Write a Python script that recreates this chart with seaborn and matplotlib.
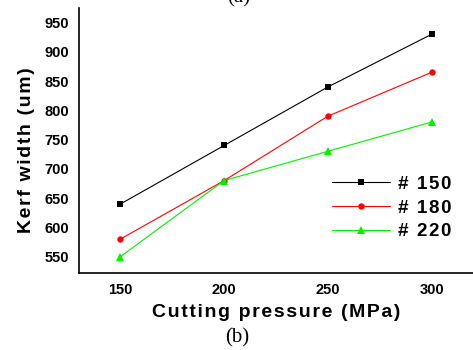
import matplotlib
matplotlib.use("Agg")
import matplotlib.pyplot as plt
import seaborn as sns
import pandas as pd
from matplotlib.ticker import MultipleLocator

pressure = [150, 200, 250, 300]
kerf_150 = [640, 740, 840, 930]
kerf_180 = [580, 680, 790, 865]
kerf_220 = [550, 680, 730, 780]
series_names = ["# 150", "# 180", "# 220"]

df = pd.DataFrame({
    "pressure": pressure * 3,
    "kerf": kerf_150 + kerf_180 + kerf_220,
    "series": [series_names[0]] * 4 + [series_names[1]] * 4 + [series_names[2]] * 4,
})

sns.set_style("white")
plt.rcParams['font.family'] = ['Liberation Sans', 'DejaVu Sans']
for k in ['text.color', 'axes.labelcolor', 'xtick.color', 'ytick.color']:
    plt.rcParams[k] = 'black'

HS = "\u200a"
def spaced(s):
    return HS.join(s)

fig = plt.figure(figsize=(4.73, 3.5), dpi=100)
ax = fig.add_axes([79/473, 77/350, 1 - 79/473, (273 - 8)/350])

palette = {"# 150": "black", "# 180": "#ff0000", "# 220": "#00ee00"}
markers = {"# 150": "s", "# 180": "o", "# 220": "^"}
sns.lineplot(data=df, x="pressure", y="kerf", hue="series", style="series",
             palette=palette, markers=markers, dashes=False, linewidth=0.8,
             markersize=4.6, markeredgewidth=0, ax=ax)
for ln in ax.lines:
    if ln.get_marker() == "^":
        ln.set_markersize(5.8)

ax.set_xlim(130, 320)
ax.set_ylim(522, 975)
ax.set_xticks([150, 200, 250, 300])
ax.set_yticks([550, 600, 650, 700, 750, 800, 850, 900, 950])
ax.xaxis.set_minor_locator(MultipleLocator(25))
ax.yaxis.set_minor_locator(MultipleLocator(25))
ax.tick_params(axis='both', which='major', direction='out', length=4, width=1,
               labelsize=10.5, pad=3)
ax.tick_params(axis='both', which='minor', direction='out', length=2.5, width=1)
for lab in ax.get_xticklabels() + ax.get_yticklabels():
    lab.set_fontweight('bold')

for s in ['top', 'right']:
    ax.spines[s].set_visible(False)
for s in ['left', 'bottom']:
    ax.spines[s].set_color('black')
    ax.spines[s].set_linewidth(1.2)

ax.set_xlabel(spaced("Cutting pressure (MPa)"), fontsize=14, fontweight='bold', labelpad=5)
ax.set_ylabel(spaced("Kerf width (um)"), fontsize=14, fontweight='bold')
ax.yaxis.set_label_coords(-0.112, 0.464)

handles, labels = ax.get_legend_handles_labels()
for h in handles:
    if h.get_marker() == "^":
        h.set_markersize(5.8)
leg = ax.legend(handles, [spaced(l) for l in labels], loc='center left',
                bbox_to_anchor=(0.642, 0.245), frameon=False,
                fontsize=13.5, handlelength=3.1, handletextpad=0.4,
                labelspacing=0.35, borderaxespad=0, borderpad=0)
for t in leg.get_texts():
    t.set_fontweight('bold')

fig.text(0.502, 0.035, "(b)", fontsize=15, family='Liberation Serif', ha='center', va='center')
fig.text(0.505, 1.005, "(a)", fontsize=15, family='Liberation Serif', ha='center', va='center')

fig.savefig("out.png", dpi=100)
